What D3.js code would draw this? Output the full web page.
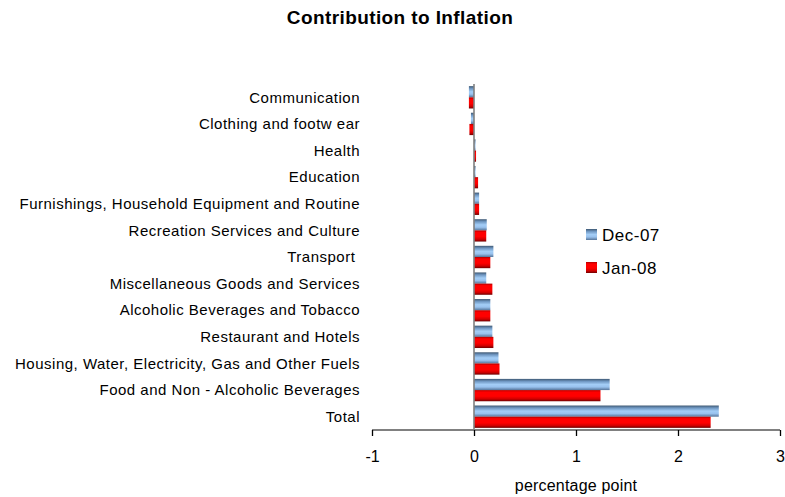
<!DOCTYPE html>
<html>
<head>
<meta charset="utf-8">
<script src="https://cdn.jsdelivr.net/npm/d3@7/dist/d3.min.js"></script>
<style>
  html, body { margin: 0; padding: 0; background: #ffffff; }
  svg { display: block; font-family: "Liberation Sans", Arial, sans-serif; }
</style>
</head>
<body>
<svg id="chart" width="785" height="497"></svg>
<script>
// Contribution of each CPI group to headline inflation (percentage points)
const categories = [
  "Communication",
  "Clothing and footw ear",
  "Health",
  "Education",
  "Furnishings, Household Equipment and Routine",
  "Recreation Services and Culture",
  "Transport ",
  "Miscellaneous Goods and Services",
  "Alcoholic Beverages and Tobacco",
  "Restaurant and Hotels",
  "Housing, Water, Electricity, Gas and Other Fuels",
  "Food and Non - Alcoholic Beverages",
  "Total"
];
const seriesNames = ["Dec-07", "Jan-08"];
const dec07 = [-0.05, -0.03, 0.015, 0.015, 0.05, 0.125, 0.19, 0.12, 0.16, 0.18, 0.24, 1.33, 2.40];
const jan08 = [-0.05, -0.045, 0.02, 0.04, 0.05, 0.12, 0.16, 0.18, 0.16, 0.19, 0.25, 1.24, 2.32];
const xTicks = [-1, 0, 1, 2, 3];
const xTickLabels = ["-1", "0", "1", "2", "3"];
const axisTitle = "percentage point";
const chartTitle = "Contribution to Inflation";

const svg = d3.select("#chart");

const plot = { left: 372, right: 780, top: 84, bottom: 430 };

const x = d3.scaleLinear().domain([-1, 3]).range([plot.left, plot.right]);
const y = d3.scaleBand().domain(categories).range([plot.top, plot.bottom]).paddingInner(0.16).paddingOuter(0.08);
const ySub = d3.scaleBand().domain(seriesNames).range([0, y.bandwidth()]);

// Cylinder-like shading for each series
const defs = svg.append("defs");
const blue = defs.append("linearGradient").attr("id", "gBlue").attr("x1", 0).attr("y1", 0).attr("x2", 0).attr("y2", 1);
[["0%", "#3e5873"], ["22%", "#6f97c2"], ["50%", "#a3cdf6"], ["72%", "#99c2ee"], ["100%", "#56759a"]]
  .forEach(([o, c]) => blue.append("stop").attr("offset", o).attr("stop-color", c));
const red = defs.append("linearGradient").attr("id", "gRed").attr("x1", 0).attr("y1", 0).attr("x2", 0).attr("y2", 1);
[["0%", "#b00000"], ["18%", "#ff0000"], ["55%", "#ff0000"], ["80%", "#d00000"], ["100%", "#6e0000"]]
  .forEach(([o, c]) => red.append("stop").attr("offset", o).attr("stop-color", c));
const fills = { "Dec-07": "url(#gBlue)", "Jan-08": "url(#gRed)" };

// Title
svg.append("text")
  .attr("x", 400).attr("y", 24)
  .attr("text-anchor", "middle")
  .attr("font-size", 19).attr("font-weight", "bold")
  .attr("letter-spacing", 0.4)
  .text(chartTitle);

// Bars
const rows = categories.map((c, i) => ({ cat: c, values: [
  { s: "Dec-07", v: dec07[i] }, { s: "Jan-08", v: jan08[i] }
]}));
const groups = svg.append("g").selectAll("g").data(rows).join("g")
  .attr("transform", d => `translate(0,${y(d.cat)})`);
groups.selectAll("rect").data(d => d.values).join("rect")
  .attr("x", d => x(Math.min(0, d.v)))
  .attr("width", d => Math.abs(x(d.v) - x(0)))
  .attr("y", d => ySub(d.s))
  .attr("height", ySub.bandwidth())
  .attr("fill", d => fills[d.s]);

// Category labels
svg.append("g").selectAll("text").data(categories).join("text")
  .attr("x", 360)
  .attr("y", d => y(d) + y.bandwidth() / 2)
  .attr("dy", "0.35em")
  .attr("text-anchor", "end")
  .attr("font-size", 15)
  .attr("letter-spacing", 0.5)
  .style("white-space", "pre")
  .attr("fill", "#000")
  .text(d => d);

// Vertical zero axis
svg.append("line")
  .attr("x1", x(0)).attr("x2", x(0))
  .attr("y1", plot.top).attr("y2", plot.bottom)
  .attr("stroke", "#808080").attr("stroke-width", 1.6);

// Horizontal value axis
const xAxis = d3.axisBottom(x).tickValues(xTicks).tickSize(6).tickPadding(15)
  .tickFormat((d, i) => xTickLabels[i]);
const gx = svg.append("g").attr("transform", `translate(0,${plot.bottom})`).call(xAxis);
gx.select(".domain").attr("stroke", "#808080").attr("stroke-width", 2).attr("d", `M${plot.left},0H${plot.right}`);
gx.selectAll(".tick line").attr("stroke", "#000").attr("stroke-width", 1.3);
gx.selectAll(".tick text").attr("font-size", 16).attr("fill", "#000")
  .attr("font-family", "Liberation Sans, Arial, sans-serif");

svg.append("text")
  .attr("x", (plot.left + plot.right) / 2).attr("y", 491)
  .attr("text-anchor", "middle")
  .attr("font-size", 16)
  .attr("letter-spacing", 0.2)
  .text(axisTitle);

// Legend
const legend = svg.append("g").attr("transform", "translate(586,229)");
seriesNames.forEach((s, i) => {
  const g = legend.append("g").attr("transform", `translate(0,${i * 33})`);
  g.append("rect").attr("width", 11).attr("height", 11).attr("fill", fills[s]);
  g.append("text").attr("x", 16).attr("y", 6).attr("dy", "0.35em")
    .attr("font-size", 17).attr("letter-spacing", 0.5).text(s);
});
</script>
</body>
</html>
